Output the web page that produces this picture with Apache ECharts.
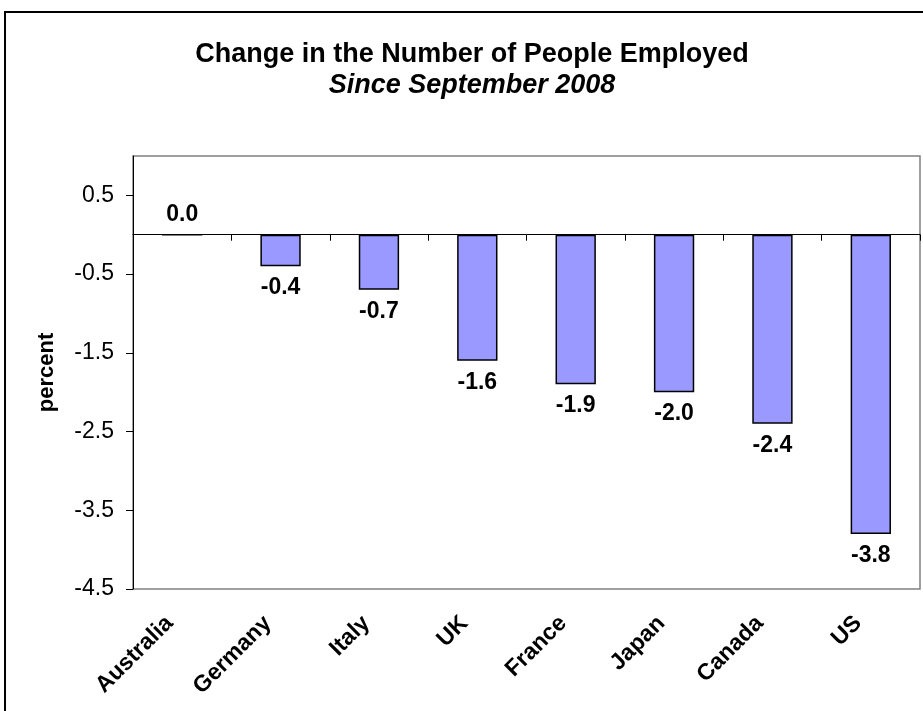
<!DOCTYPE html>
<html>
<head>
<meta charset="utf-8">
<script src="https://cdn.jsdelivr.net/npm/echarts@6/dist/echarts.min.js"></script>
<style>
html,body{margin:0;padding:0;background:#fff;}
#chart{width:923px;height:711px;}
</style>
</head>
<body>
<div id="chart"></div>
<script>
const titleText = "Change in the Number of People Employed";
const subtitleText = "Since September 2008";
const categories = ["Australia", "Germany", "Italy", "UK", "France", "Japan", "Canada", "US"];
const values = [0.0, -0.4, -0.7, -1.6, -1.9, -2.0, -2.4, -3.8];
const yTicks = [-4.5, -3.5, -2.5, -1.5, -0.5, 0.5];
const yMin = -4.5, yMax = 1.0;
const yName = "percent";

const font = "Arial, 'Liberation Sans', sans-serif";
const chart = echarts.init(document.getElementById('chart'), null, {renderer: 'canvas'});
const gridPos = {left: 133, right: 3, top: 156, bottom: 122};

chart.setOption({
  animation: false,
  backgroundColor: '#ffffff',
  graphic: [
    {type: 'rect', shape: {x: 5, y: 12, width: 960, height: 760}, style: {fill: 'none', stroke: '#000', lineWidth: 2}, z: 100},
    {type: 'text', x: 472, y: 41, style: {text: titleText, font: "bold 27px " + font, fill: '#000', align: 'center'}},
    {type: 'text', x: 472, y: 72, style: {text: subtitleText, font: "italic bold 27px " + font, fill: '#000', align: 'center'}}
  ],
  grid: [
    Object.assign({show: true, borderColor: '#808080', borderWidth: 1.5, backgroundColor: '#fff'}, gridPos),
    Object.assign({show: false}, gridPos)
  ],
  xAxis: [
    {
      type: 'category', gridIndex: 0, data: categories,
      axisLine: {show: true, onZero: true, lineStyle: {color: '#000', width: 1}},
      axisTick: {show: true, length: 6, lineStyle: {color: '#000'}},
      axisLabel: {show: false},
      splitLine: {show: false}
    },
    {
      type: 'category', gridIndex: 1, data: categories, position: 'bottom',
      axisLine: {show: false, onZero: false},
      axisTick: {show: false},
      axisLabel: {show: true, interval: 0, rotate: 45, margin: 18, padding: [0, 18, 0, 0], color: '#000', fontFamily: font, fontWeight: 'bold', fontSize: 23},
      splitLine: {show: false}
    }
  ],
  yAxis: [
    {
      type: 'value', gridIndex: 0, min: yMin, max: yMax, interval: 1,
      name: yName, nameLocation: 'middle', nameGap: 75, nameRotate: 90,
      nameTextStyle: {color: '#000', fontFamily: font, fontWeight: 'bold', fontSize: 22},
      axisLine: {show: true, lineStyle: {color: '#000', width: 1}},
      axisTick: {show: true, length: 7, lineStyle: {color: '#000'}, customValues: yTicks},
      axisLabel: {color: '#000', fontFamily: font, fontSize: 23, margin: 19, customValues: yTicks,
        formatter: v => v.toFixed(1)},
      splitLine: {show: false}
    },
    {type: 'value', gridIndex: 1, min: yMin, max: yMax, show: false}
  ],
  series: [{
    type: 'bar', xAxisIndex: 0, yAxisIndex: 0,
    barWidth: '41%',
    data: values.map(v => ({
      value: v,
      label: {position: v < 0 ? 'bottom' : 'top', distance: v < 0 ? 10 : 8}
    })),
    itemStyle: {color: '#9999FF', borderColor: '#000', borderWidth: 1.5},
    label: {show: true, color: '#000', fontFamily: font, fontWeight: 'bold', fontSize: 23,
      formatter: p => p.value.toFixed(1)}
  }]
});
</script>
</body>
</html>
